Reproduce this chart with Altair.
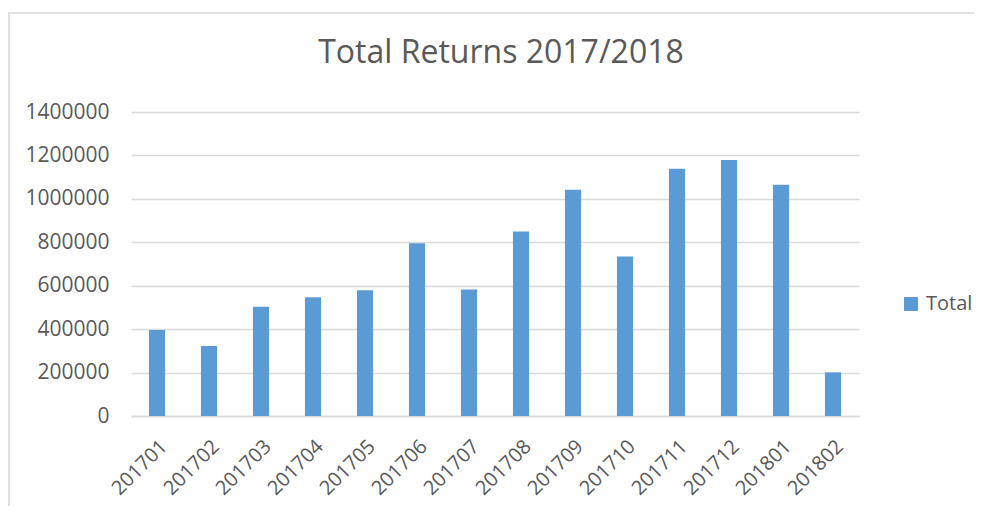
import altair as alt
import pandas as pd

months = ["201701", "201702", "201703", "201704", "201705", "201706", "201707",
          "201708", "201709", "201710", "201711", "201712", "201801", "201802"]
totals = [396000, 322000, 503000, 547000, 579000, 795000, 582000,
          850000, 1042000, 735000, 1139000, 1179000, 1065000, 201000]
series = ["Total"] * len(months)
chart_title = "Total Returns 2017/2018"

df = pd.DataFrame({"month": months, "total": totals, "series": series})

GRAY = "#595959"
GRID = "#D9D9D9"
FONT = "Open Sans"

bars = alt.Chart(df).mark_bar(color="#5B9BD5").encode(
    x=alt.X("month:N", sort=months,
            scale=alt.Scale(paddingInner=0.69, paddingOuter=0.345),
            axis=alt.Axis(title=None, labelAngle=-45, labelFontSize=20, labelColor=GRAY,
                          labelFont=FONT, ticks=False, domainColor=GRID, domainWidth=1.5,
                          labelPadding=20, grid=False)),
    y=alt.Y("total:Q", scale=alt.Scale(domain=[0, 1400000]),
            axis=alt.Axis(title=None, values=list(range(0, 1400001, 200000)), format="d",
                          labelFontSize=21, labelColor=GRAY, labelFont=FONT, ticks=False,
                          domain=False, gridColor=GRID, gridWidth=1.5, labelPadding=22)),
    color=alt.Color("series:N", scale=alt.Scale(range=["#5B9BD5"]),
                    legend=alt.Legend(title=None, orient="none", legendX=770, legendY=182,
                                      symbolType="square", symbolSize=196,
                                      symbolStrokeWidth=0, labelFontSize=20,
                                      labelColor=GRAY, labelFont=FONT, labelOffset=5)),
)

one = pd.DataFrame({"t": [chart_title]})
top_border = alt.Chart(one).mark_rule(color=GRID, strokeWidth=1.5).encode(
    x=alt.value(-123), x2=alt.value(843), y=alt.value(-99))
left_border = alt.Chart(one).mark_rule(color=GRID, strokeWidth=1.5).encode(
    x=alt.value(-122), y=alt.value(-99), y2=alt.value(395))
title = alt.Chart(one).mark_text(fontSize=32, font=FONT, color=GRAY, align="center",
                                 baseline="alphabetic").encode(
    text="t:N", x=alt.value(370), y=alt.value(-49))

chart = alt.layer(top_border, left_border, title, bars).properties(
    width=728, height=304,
    autosize=alt.AutoSizeParams(type="none"),
    padding={"left": 123, "top": 104, "right": 115, "bottom": 90},
).configure_view(stroke=None)

chart.save("out.html", embed_options={"renderer": "svg", "actions": False})
